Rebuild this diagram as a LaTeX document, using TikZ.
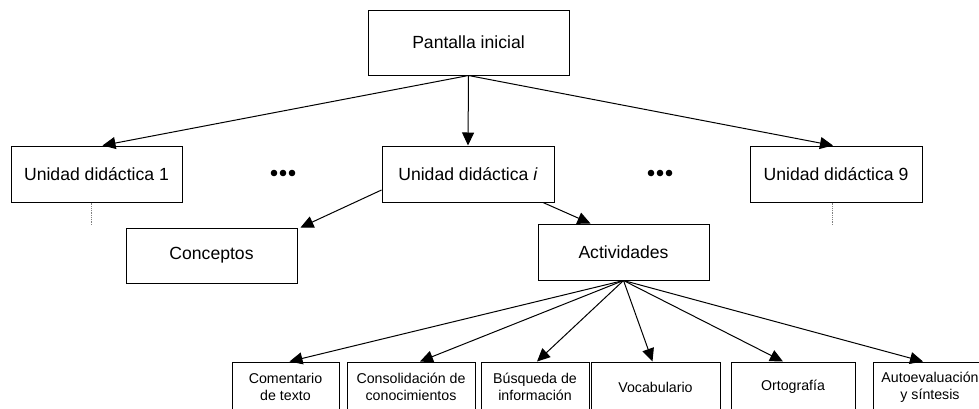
\documentclass[tikz,border=0pt]{standalone}
\usepackage{fontspec}
\setmainfont{Liberation Sans}
\usetikzlibrary{arrows.meta}
\begin{document}
\begin{tikzpicture}[x=1pt,y=-1pt,
        caja/.style={draw,line width=1pt,inner sep=0pt,align=center,font=\fontsize{17.6}{21}\selectfont},
        cajita/.style={draw,line width=1pt,inner sep=0pt,align=center,minimum height=50pt,font=\fontsize{14.2}{16.7}\selectfont},
        flecha/.style={line width=1pt,-{Triangle[length=13pt,width=12pt]}}]
        \clip (0,0) rectangle (979,408);
        \node[caja,minimum width=201pt,minimum height=65pt] (pant) at (468.5,42.5) {Pantalla inicial};
        \node[caja,minimum width=171pt,minimum height=56pt] (ud1) at (96.5,174) {Unidad didáctica 1};
        \node[caja,minimum width=172pt,minimum height=56pt] (udi) at (468,174) {Unidad didáctica \textit{i}};
        \node[caja,minimum width=172pt,minimum height=56pt] (ud9) at (836,174) {Unidad didáctica 9};
        \node[caja,minimum width=171pt,minimum height=55pt] (conc) at (211.5,255.5) {Conceptos};
        \node[caja,minimum width=171pt,minimum height=56pt] (act) at (623.5,252) {Actividades};
        % suspensivos
        \foreach \dx in {-9,0,9} {
            \fill (283+\dx,173) circle (3.3);
            \fill (660+\dx,173) circle (3.3);
        }
        \draw[densely dotted,gray,line width=.8pt] ([xshift=-5.5pt]ud1.south) -- ++(0,22);
        \draw[densely dotted,gray,line width=.8pt] ([xshift=-4pt]ud9.south) -- ++(0,22);
        % actividades
        \node[cajita,minimum width=107pt] (com) at (285.5,387) {Comentario\\de texto};
        \node[cajita,minimum width=128pt] (cons) at (411,387) {Consolidación de\\conocimientos};
        \node[cajita,minimum width=108pt] (busq) at (535,387) {Búsqueda de\\información};
        \node[cajita,minimum width=129pt] (voc) at (655.5,387) {Vocabulario};
        \node[cajita,minimum width=124pt] (orto) at (793,387) {Ortografía};
        \node[cajita,minimum width=114pt] (auto) at (930,387) {Autoevaluación\\y síntesis};
        \draw[flecha] (pant.south) -- ([xshift=6pt]ud1.north);
        \draw[flecha] (pant.south) -- (udi.north);
        \draw[flecha] (pant.south) -- ([xshift=-3pt]ud9.north);
        \draw[flecha] ([yshift=-16pt]udi.west) -- ([xshift=3pt]conc.north east);
        \draw[flecha] ([xshift=75pt]udi.south) -- ([xshift=-33pt]act.north);
        \draw[flecha] (act.south) -- ([xshift=4pt]com.north);
        \draw[flecha] (act.south) -- ([xshift=9pt]cons.north);
        \draw[flecha] (act.south) -- ([xshift=2pt]busq.north);
        \draw[flecha] (act.south) -- ([xshift=-3pt]voc.north);
        \draw[flecha] (act.south) -- ([xshift=-10pt]orto.north);
        \draw[flecha] (act.south) -- ([xshift=-7pt]auto.north);
\end{tikzpicture}
\end{document}
